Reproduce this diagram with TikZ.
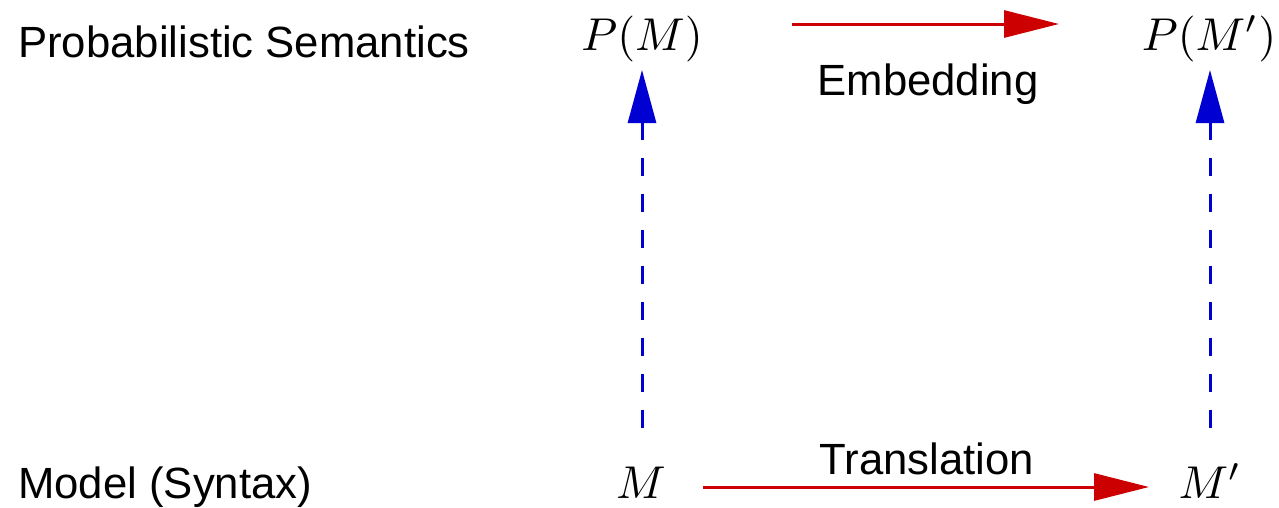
\documentclass[tikz,border=0pt]{standalone}
\usepackage{graphicx}
\usepackage{fontspec}
\setmainfont{Liberation Sans}
\usetikzlibrary{arrows.meta}
\definecolor{myred}{RGB}{204,0,0}
\definecolor{myblue}{RGB}{0,0,210}
\newcommand{\bigmath}[1]{\scalebox{4.6}{$#1$}}
\begin{document}
\begin{tikzpicture}[x=1pt,y=-1pt,
  lbl/.style={inner sep=0pt, font=\fontsize{43.7}{50}\selectfont},
  mth/.style={inner sep=0pt},
  redarrow/.style={draw=myred, line width=3pt, -{Triangle[length=55pt,width=27pt]}},
  bluearrow/.style={draw=myblue, line width=3pt, dash pattern=on 18pt off 18pt, -{Triangle[length=53pt,width=28pt]}}]
\useasboundingbox (0,0) rectangle (1279,507);
% row labels
\node[lbl, anchor=base west] (sem) at (18,57) {Probabilistic Semantics};
\node[lbl, anchor=base west] (syn) at (18,498) {Model (Syntax)};
% math nodes
\node[mth, anchor=base] (PM) at (642,50) {\bigmath{P(M)}};
\node[mth, anchor=base] (PMp) at (1209,50) {\bigmath{P(M')}};
\node[mth, anchor=base] (M) at (641,498) {\bigmath{M}};
\node[mth, anchor=base] (Mp) at (1210,498) {\bigmath{M'}};
% arrow labels
\node[lbl, anchor=base] (emb) at (928,95) {Embedding};
\node[lbl, anchor=base] (tra) at (927,474) {Translation};
% arrow end points
\coordinate (e1) at (792,24);
\coordinate (e2) at (1059,24);
\coordinate (t1) at (703,487);
\coordinate (t2) at (1149,487);
\coordinate (b1s) at (642,428);
\coordinate (b1e) at (642,70);
\coordinate (b2s) at (1210,428);
\coordinate (b2e) at (1210,70);
% arrows
\draw[redarrow] (e1) -- (e2);
\draw[redarrow] (t1) -- (t2);
\draw[bluearrow] (b1s) -- (b1e);
\draw[bluearrow] (b2s) -- (b2e);
\end{tikzpicture}
\end{document}
